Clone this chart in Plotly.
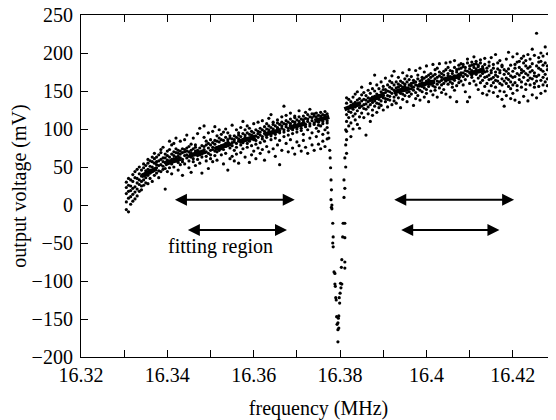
import plotly.graph_objects as go

# ── Swept response: left of the dip (columns of samples per frequency step) ──
freq_left = [
    16.3305, 16.3310, 16.3315, 16.3320, 16.3325, 16.3330, 16.3335, 16.3340, 16.3345, 16.3350,
    16.3355, 16.3360, 16.3365, 16.3370, 16.3375, 16.3380, 16.3385, 16.3390, 16.3395, 16.3400,
    16.3405, 16.3410, 16.3415, 16.3420, 16.3425, 16.3430, 16.3435, 16.3440, 16.3445, 16.3450,
    16.3455, 16.3460, 16.3465, 16.3470, 16.3475, 16.3480, 16.3485, 16.3490, 16.3495, 16.3500,
    16.3505, 16.3510, 16.3515, 16.3520, 16.3525, 16.3530, 16.3535, 16.3540, 16.3545, 16.3550,
    16.3555, 16.3560, 16.3565, 16.3570, 16.3575, 16.3580, 16.3585, 16.3590, 16.3595, 16.3600,
    16.3605, 16.3610, 16.3615, 16.3620, 16.3625, 16.3630, 16.3635, 16.3640, 16.3645, 16.3650,
    16.3655, 16.3660, 16.3665, 16.3670, 16.3675, 16.3680, 16.3685, 16.3690, 16.3695, 16.3700,
    16.3705, 16.3710, 16.3715, 16.3720, 16.3725, 16.3730, 16.3735, 16.3740, 16.3745, 16.3750,
    16.3755, 16.3760, 16.3765, 16.3770,
]
volt_left = [
    [15, 30, 4, 23, -6], [26, 9, 35, 18, -9], [19, 33, 1, 25, 11], [31, 14, 40, 22, 5],
    [24, 36, 17, 44, 8], [35, 21, 29, 47, 12], [27, 41, 33, 18, 50], [38, 25, 46, 31, 20],
    [33, 49, 40, 26, 54], [45, 36, 29, 52, 41], [39, 55, 47, 28, 60], [51, 42, 35, 58, 46],
    [44, 57, 50, 31, 63], [55, 47, 61, 39, 68], [49, 63, 53, 42, 57], [58, 45, 66, 52, 36],
    [53, 69, 60, 44, 73], [62, 51, 57, 76, 47], [56, 67, 48, 21, 62], [65, 55, 71, 59, 44],
    [58, 73, 63, 49, 84], [67, 60, 54, 79, 41], [61, 70, 65, 50, 81], [69, 58, 63, 88, 74],
    [64, 72, 56, 46, 68], [71, 62, 67, 84, 53], [60, 69, 74, 57, 39], [73, 65, 70, 54, 86],
    [66, 75, 62, 71, 92], [70, 64, 58, 77, 49], [63, 72, 68, 80, 43], [74, 67, 61, 88, 57],
    [68, 76, 71, 52, 79], [72, 65, 69, 94, 60], [66, 75, 70, 101, 55], [71, 63, 78, 42, 67],
    [77, 69, 73, 89, 104], [70, 79, 64, 84, 58], [75, 68, 81, 95, 48], [79, 72, 66, 86, 61],
    [73, 82, 76, 97, 57], [80, 71, 85, 103, 65], [76, 84, 70, 59, 91], [83, 77, 72, 99, 88],
    [78, 86, 74, 93, 66], [85, 79, 73, 96, 54], [81, 89, 77, 68, 100], [86, 78, 83, 95, 46],
    [80, 88, 75, 91, 61], [87, 82, 78, 105, 64], [83, 91, 86, 72, 58], [89, 81, 76, 99, 67],
    [84, 92, 87, 95, 55], [90, 83, 79, 102, 69], [86, 94, 82, 74, 110], [92, 85, 89, 99, 63],
    [87, 95, 81, 76, 104], [93, 88, 84, 101, 56], [89, 97, 92, 78, 66], [95, 86, 90, 107, 71],
    [91, 99, 85, 80, 61], [97, 89, 94, 109, 75], [92, 101, 96, 82, 68], [99, 90, 87, 111, 73],
    [94, 103, 97, 84, 59], [100, 93, 89, 107, 77], [96, 104, 99, 114, 70], [102, 94, 91, 86, 119],
    [98, 106, 100, 109, 74], [104, 96, 93, 88, 64], [100, 108, 102, 112, 79], [106, 98, 95, 85, 53],
    [101, 109, 104, 116, 72], [107, 99, 96, 90, 130], [103, 111, 106, 118, 81], [109, 101, 98, 92, 70],
    [104, 113, 107, 121, 86], [110, 102, 99, 94, 75], [106, 115, 109, 117, 67], [112, 103, 100, 96, 83],
    [107, 116, 110, 124, 78], [113, 105, 101, 98, 71], [109, 117, 112, 93, 85], [114, 106, 103, 122, 76],
    [110, 119, 113, 99, 68], [116, 107, 104, 126, 88], [111, 120, 115, 95, 79], [117, 108, 106, 120, 72],
    [112, 121, 116, 101, 90], [118, 109, 105, 97, 80], [113, 122, 117, 104, 74], [119, 110, 107, 93, 84],
    [114, 123, 118, 99, 77], [120, 111, 108, 102, 87],
]

# ── Samples down the resonance dip ───────────────────────────────────────────
dip_freq = [
    16.3772, 16.3774, 16.3776, 16.3777, 16.3778, 16.3779, 16.3780, 16.3779, 16.3780, 16.3781,
    16.3781, 16.3783, 16.3784, 16.3783, 16.3784, 16.3786, 16.3788, 16.3788, 16.3789, 16.3790,
    16.3791, 16.3792, 16.3793, 16.3795, 16.3795, 16.3797, 16.3796, 16.3795, 16.3798, 16.3799,
    16.3797, 16.3800, 16.3801, 16.3802, 16.3804, 16.3803, 16.3804, 16.3806, 16.3807, 16.3811,
    16.3811, 16.3811, 16.3811, 16.3809, 16.3811, 16.3809, 16.3813, 16.3811, 16.3815, 16.3813,
    16.3815, 16.3813,
]
dip_volt = [
    95, 88, 72, 62, 49, 33, 20, 7, -3, 0,
    -5, -24, -42, -50, -55, -88, -90, -104, -107, -122,
    -125, -147, -157, -155, -164, -162, -149, -180, -122, -129,
    -146, -116, -103, -109, -104, -82, -72, -42, -24, -24,
    -43, -75, -83, 10, 22, 33, 50, 62, 68, 79,
    86, 99,
]

# ── Swept response: right of the dip ─────────────────────────────────────────
freq_right = [
    16.3815, 16.3820, 16.3825, 16.3830, 16.3835, 16.3840, 16.3845, 16.3850, 16.3855, 16.3860,
    16.3865, 16.3870, 16.3875, 16.3880, 16.3885, 16.3890, 16.3895, 16.3900, 16.3905, 16.3910,
    16.3915, 16.3920, 16.3925, 16.3930, 16.3935, 16.3940, 16.3945, 16.3950, 16.3955, 16.3960,
    16.3965, 16.3970, 16.3975, 16.3980, 16.3985, 16.3990, 16.3995, 16.4000, 16.4005, 16.4010,
    16.4015, 16.4020, 16.4025, 16.4030, 16.4035, 16.4040, 16.4045, 16.4050, 16.4055, 16.4060,
    16.4065, 16.4070, 16.4075, 16.4080, 16.4085, 16.4090, 16.4095, 16.4100, 16.4105, 16.4110,
    16.4115, 16.4120, 16.4125, 16.4130, 16.4135, 16.4140, 16.4145, 16.4150, 16.4155, 16.4160,
    16.4165, 16.4170, 16.4175, 16.4180, 16.4185, 16.4190, 16.4195, 16.4200, 16.4205, 16.4210,
    16.4215, 16.4220, 16.4225, 16.4230, 16.4235, 16.4240, 16.4245, 16.4250, 16.4255, 16.4260,
    16.4265, 16.4270, 16.4275, 16.4280, 16.4285, 16.4290, 16.4295,
]
volt_right = [
    [119, 134, 110, 141, 97], [128, 115, 139, 104, 123], [131, 122, 108, 136, 90], [126, 142, 117, 100, 133],
    [135, 120, 129, 146, 112], [124, 138, 131, 106, 149], [140, 128, 116, 134, 101], [130, 145, 121, 137, 155],
    [127, 139, 148, 115, 132], [144, 133, 126, 92, 138], [136, 129, 151, 120, 141], [132, 147, 138, 110, 160],
    [142, 125, 135, 153, 118], [137, 150, 130, 171, 143], [146, 134, 140, 122, 158], [139, 153, 144, 128, 133],
    [149, 137, 131, 162, 145], [141, 156, 147, 125, 152], [152, 140, 136, 167, 148], [144, 158, 150, 129, 139],
    [155, 143, 138, 163, 149], [147, 161, 153, 132, 170], [142, 151, 158, 176, 137], [154, 145, 162, 134, 149],
    [150, 159, 141, 168, 155], [157, 147, 163, 128, 152], [146, 155, 161, 174, 139], [159, 151, 144, 166, 156],
    [153, 162, 148, 136, 170], [149, 158, 165, 143, 178], [160, 153, 146, 169, 157], [155, 164, 151, 131, 161],
    [162, 148, 158, 177, 140], [157, 166, 153, 144, 171], [151, 163, 159, 180, 138], [165, 156, 149, 168, 161],
    [158, 167, 154, 175, 142], [163, 152, 169, 147, 183], [156, 171, 161, 136, 165], [168, 159, 150, 173, 163],
    [161, 170, 157, 185, 145], [166, 155, 172, 151, 178], [159, 168, 163, 142, 180], [170, 162, 154, 175, 186],
    [164, 173, 158, 148, 168], [171, 160, 176, 152, 166], [167, 178, 163, 187, 146], [173, 165, 159, 181, 170],
    [169, 177, 162, 142, 188], [176, 166, 173, 155, 160], [170, 181, 164, 190, 151], [178, 168, 175, 157, 136],
    [172, 184, 166, 179, 161], [180, 171, 163, 186, 174], [174, 185, 169, 158, 182], [181, 172, 177, 165, 149],
    [176, 187, 170, 136, 192], [183, 174, 179, 160, 142], [177, 188, 168, 184, 171], [185, 175, 181, 163, 195],
    [179, 189, 172, 158, 186], [184, 176, 182, 167, 152], [178, 187, 170, 191, 161], [182, 173, 179, 164, 147],
    [175, 185, 168, 193, 156], [180, 169, 176, 160, 145], [171, 183, 165, 188, 150], [177, 166, 174, 157, 194],
    [168, 180, 161, 148, 185], [175, 164, 171, 198, 155], [163, 179, 169, 187, 143], [174, 160, 177, 150, 190],
    [166, 182, 158, 184, 139], [172, 163, 178, 149, 130], [160, 176, 167, 192, 144], [179, 165, 156, 201, 173],
    [162, 184, 170, 153, 140], [176, 158, 168, 147, 195], [169, 185, 161, 180, 138], [173, 157, 188, 151, 199],
    [165, 181, 171, 189, 135], [178, 162, 155, 174, 193], [168, 187, 176, 196, 143], [159, 173, 183, 152, 190],
    [171, 164, 180, 198, 137], [182, 167, 158, 175, 192], [166, 177, 186, 205, 145], [174, 160, 170, 155, 197],
    [169, 183, 163, 226, 141], [180, 171, 156, 188, 194], [164, 178, 189, 200, 147], [176, 158, 184, 168, 196],
    [172, 187, 162, 208, 150], [183, 166, 178, 157, 199], [170, 191, 175, 204, 146], [185, 163, 179, 160, 202],
    [174, 190, 167, 155, 188],
]

# ── Background fit (dashed), either side of the dip ──────────────────────────
fit_left_freq = [16.3340, 16.3400, 16.3450, 16.3500, 16.3550, 16.3600, 16.3650, 16.3700, 16.3775]
fit_left_volt = [38, 55, 65, 72, 81, 89, 97, 105, 116]
fit_right_freq = [16.3810, 16.3850, 16.3900, 16.3950, 16.4000, 16.4050, 16.4135]
fit_right_volt = [126, 135, 145, 152, 160, 166, 178]

# ── Fitting-region arrows ────────────────────────────────────────────────────
arrow_start = [16.3414, 16.3444, 16.3922, 16.3938]
arrow_end = [16.3695, 16.3677, 16.4203, 16.4169]
arrow_volt = [7, -33, 7, -33]

x_ticks = [16.32, 16.33, 16.34, 16.35, 16.36, 16.37, 16.38, 16.39, 16.40, 16.41, 16.42, 16.43]
x_labels = ["16.32", "", "16.34", "", "16.36", "", "16.38", "", "16.4", "", "16.42", ""]


def expand(freqs, columns):
    xs, ys = [], []
    for f, vals in zip(freqs, columns):
        for v in vals:
            xs.append(f)
            ys.append(v)
    return xs, ys


assert len(freq_left) == len(volt_left)
assert len(freq_right) == len(volt_right)
assert len(dip_freq) == len(dip_volt)

lx, ly = expand(freq_left, volt_left)
rx, ry = expand(freq_right, volt_right)

FONT = "Liberation Serif, Times New Roman, serif"
fig = go.Figure()

fig.add_trace(go.Scatter(
    x=lx + dip_freq + rx, y=ly + dip_volt + ry,
    mode="markers", marker=dict(color="black", size=3.2, line=dict(width=0)),
    showlegend=False,
))
for fx, fy in [(fit_left_freq, fit_left_volt), (fit_right_freq, fit_right_volt)]:
    fig.add_trace(go.Scatter(
        x=fx, y=fy, mode="lines", line=dict(color="black", width=4.5, dash="17px,9px"),
        showlegend=False,
    ))

annotations = []
for x0, x1, yv in zip(arrow_start, arrow_end, arrow_volt):
    annotations.append(dict(
        x=x1, y=yv, ax=x0, ay=yv, xref="x", yref="y", axref="x", ayref="y",
        text="", showarrow=True, arrowhead=2, arrowside="end+start",
        arrowsize=1.2, arrowwidth=2, arrowcolor="black", standoff=0, startstandoff=0,
    ))
annotations.append(dict(
    x=16.3522, y=-55, xref="x", yref="y", text="fitting region", showarrow=False,
    font=dict(family=FONT, size=20, color="black"),
))

axis_common = dict(
    showline=True, linecolor="black", linewidth=1.2, mirror="ticks",
    ticks="inside", ticklen=7, tickwidth=1.2, tickcolor="black",
    showgrid=False, zeroline=False, automargin=False, ticklabeloverflow="allow",
    tickfont=dict(family=FONT, size=20, color="black"),
)

# page body adds an 8px offset, so the figure is sized to fit inside the window
fig.update_layout(
    width=548, height=412,
    margin=dict(l=73, r=0, t=7, b=63),
    plot_bgcolor="white", paper_bgcolor="white",
    xaxis=dict(
        range=[16.32, 16.43], tickmode="array", tickvals=x_ticks, ticktext=x_labels,
        title=dict(text="frequency (MHz)", font=dict(family=FONT, size=20, color="black"), standoff=15),
        **axis_common,
    ),
    yaxis=dict(
        range=[-200, 250], dtick=50, tick0=0, ticklabelstandoff=3,
        title=dict(text="output voltage (mV)", font=dict(family=FONT, size=20, color="black"), standoff=3),
        **axis_common,
    ),
    annotations=annotations,
)

fig.write_html("out.html")
